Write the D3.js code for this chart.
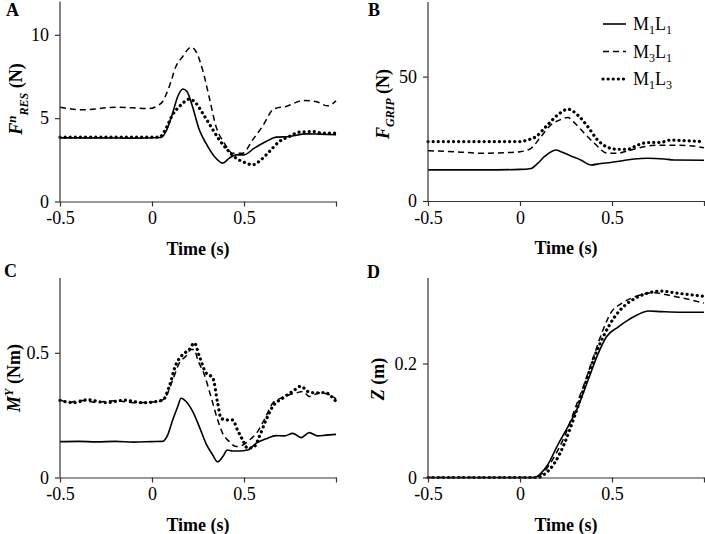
<!DOCTYPE html>
<html><head><meta charset="utf-8">
<script src="https://cdnjs.cloudflare.com/ajax/libs/d3/7.8.5/d3.min.js"></script>
<style>
html,body{margin:0;padding:0;background:#fff;}
svg{display:block;font-family:"Liberation Serif","Times New Roman",serif;}
</style></head>
<body>
<svg id="chart" width="705" height="534"></svg>
<script>
// ---------- DATA ----------
const timeTicks = [-0.5, 0, 0.5, 1];
const timeTickLabels = ["-0.5", "0", "0.5", ""];
const seriesNames = [["M","1","L","1"], ["M","3","L","1"], ["M","1","L","3"]];

// Panel A: Fn_RES (N)
const aTicks = [0, 5, 10];
const aM1L1 = [[-0.5,3.82],[-0.3,3.82],[-0.1,3.8],[0.05,3.84],[0.076,4.2],[0.112,5.3],[0.14,6.3],[0.168,6.75],[0.19,6.6],[0.22,5.7],[0.257,4.3],[0.293,3.5],[0.339,2.7],[0.384,2.3],[0.42,2.6],[0.457,2.8],[0.5,2.8],[0.556,3.2],[0.62,3.6],[0.674,3.86],[0.746,3.9],[0.837,4.06],[0.91,4.04],[1.0,4.0]];
const aM3L1 = [[-0.5,5.66],[-0.377,5.5],[-0.196,5.66],[-0.014,5.58],[0.03,5.74],[0.058,6.0],[0.094,6.9],[0.13,8.1],[0.167,8.7],[0.212,9.26],[0.239,9.0],[0.275,7.9],[0.31,6.3],[0.348,4.5],[0.393,3.5],[0.438,2.9],[0.493,2.9],[0.547,3.7],[0.6,4.5],[0.656,5.5],[0.674,5.6],[0.728,5.7],[0.764,5.86],[0.82,6.06],[0.891,6.0],[0.955,5.74],[1.0,6.04]];
const aM1L3 = [[-0.5,3.86],[-0.2,3.86],[0.04,3.86],[0.067,4.2],[0.112,5.2],[0.158,5.8],[0.203,6.14],[0.239,5.9],[0.275,5.3],[0.32,4.5],[0.366,3.7],[0.41,3.1],[0.457,2.6],[0.5,2.36],[0.547,2.2],[0.592,2.5],[0.638,3.0],[0.692,3.6],[0.746,3.9],[0.8,4.16],[0.873,4.2],[0.927,4.1],[1.0,4.1]];

// Panel B: F_GRIP (N)
const bTicks = [0, 50];
const bM1L1 = [[-0.5,12.5],[-0.2,12.5],[0,12.7],[0.06,13.1],[0.096,15.1],[0.132,17.8],[0.196,20.5],[0.223,19.8],[0.277,18.1],[0.33,16.5],[0.386,14.5],[0.44,15.1],[0.493,15.5],[0.547,16.1],[0.62,16.9],[0.692,17.2],[0.783,16.9],[0.837,16.5],[1.0,16.4]];
const bM3L1 = [[-0.5,20.2],[-0.35,19.8],[-0.21,19.2],[-0.085,19.4],[0,19.8],[0.06,21.2],[0.114,25.9],[0.168,30.6],[0.223,32.8],[0.26,33.6],[0.295,31.5],[0.35,27.2],[0.404,23.2],[0.476,19.2],[0.53,19.2],[0.585,20.2],[0.64,21.2],[0.73,22.4],[0.837,22.4],[0.91,22.3],[1.0,21.4]];
const bM1L3 = [[-0.5,23.9],[-0.2,23.9],[0,23.9],[0.04,24.5],[0.087,25.9],[0.141,29.9],[0.205,34.6],[0.26,36.9],[0.313,34.6],[0.368,29.9],[0.422,24.5],[0.476,21.6],[0.53,20.8],[0.585,20.8],[0.64,22.5],[0.692,23.5],[0.765,23.6],[0.82,24.5],[0.89,24.3],[1.0,23.9]];

// Panel C: M^Y (Nm)
const cTicks = [0, 0.5];
const cM1L1 = [[-0.5,0.144],[-0.4,0.145],[-0.3,0.143],[-0.2,0.145],[-0.1,0.142],[0,0.144],[0.058,0.145],[0.085,0.17],[0.112,0.23],[0.14,0.285],[0.158,0.318],[0.185,0.305],[0.221,0.265],[0.257,0.204],[0.293,0.137],[0.33,0.09],[0.357,0.063],[0.384,0.083],[0.41,0.11],[0.438,0.106],[0.474,0.106],[0.52,0.11],[0.565,0.137],[0.62,0.155],[0.674,0.168],[0.72,0.167],[0.765,0.177],[0.81,0.16],[0.855,0.18],[0.9,0.167],[0.946,0.17],[1.0,0.173]];
const cM3L1 = [[-0.5,0.312],[-0.45,0.3],[-0.4,0.31],[-0.3,0.302],[-0.2,0.308],[-0.1,0.3],[0.04,0.305],[0.076,0.325],[0.112,0.39],[0.149,0.46],[0.185,0.487],[0.212,0.513],[0.23,0.513],[0.248,0.473],[0.284,0.413],[0.32,0.325],[0.357,0.231],[0.384,0.177],[0.42,0.144],[0.457,0.124],[0.493,0.13],[0.53,0.15],[0.574,0.184],[0.61,0.231],[0.656,0.298],[0.7,0.318],[0.746,0.332],[0.783,0.339],[0.82,0.345],[0.855,0.325],[0.91,0.339],[0.964,0.332],[1.0,0.315]];
const cM1L3 = [[-0.5,0.309],[-0.42,0.3],[-0.35,0.312],[-0.25,0.3],[-0.15,0.31],[-0.05,0.3],[0.058,0.31],[0.094,0.366],[0.13,0.453],[0.167,0.493],[0.203,0.513],[0.23,0.54],[0.257,0.487],[0.293,0.42],[0.33,0.4],[0.357,0.298],[0.375,0.238],[0.402,0.231],[0.438,0.231],[0.465,0.19],[0.493,0.15],[0.52,0.117],[0.556,0.124],[0.583,0.164],[0.62,0.231],[0.656,0.285],[0.71,0.318],[0.764,0.345],[0.81,0.366],[0.846,0.345],[0.891,0.339],[0.937,0.341],[1.0,0.305]];

// Panel D: Z (m)
const dTicks = [0, 0.2];
const dM1L1 = [[-0.5,0],[0.078,0],[0.114,0.0076],[0.15,0.022],[0.205,0.057],[0.26,0.089],[0.315,0.124],[0.37,0.171],[0.424,0.217],[0.47,0.247],[0.533,0.264],[0.587,0.276],[0.642,0.286],[0.696,0.292],[0.769,0.291],[0.878,0.29],[1.0,0.29]];
const dM3L1 = [[-0.5,0],[0.08,0],[0.13,0.01],[0.187,0.037],[0.242,0.072],[0.296,0.118],[0.35,0.165],[0.405,0.217],[0.45,0.258],[0.496,0.29],[0.55,0.305],[0.624,0.317],[0.678,0.322],[0.733,0.324],[0.805,0.32],[0.896,0.314],[1.0,0.306]];
const dM1L3 = [[-0.5,0],[0.1,0],[0.14,0.0076],[0.187,0.025],[0.242,0.06],[0.296,0.107],[0.35,0.159],[0.405,0.212],[0.46,0.252],[0.515,0.282],[0.57,0.302],[0.624,0.314],[0.698,0.324],[0.77,0.327],[0.842,0.324],[0.915,0.321],[1.0,0.318]];

// ---------- STYLES ----------
const lineStyles = [
  {width: 1.6, dash: null, cap: "butt"},
  {width: 1.5, dash: "6,4", cap: "butt"},
  {width: 3.2, dash: "0.1,5", cap: "round"}
];
const axisColor = "#333";

const svg = d3.select("#chart");

function panel(cfg) {
  const x = d3.scaleLinear().domain([-0.5, 1]).range([cfg.x0, cfg.x1]);
  const y = d3.scaleLinear().domain([0, cfg.ymax]).range([cfg.y0, cfg.y1]);
  const g = svg.append("g");

  // lines
  const line = d3.line().x(d => x(d[0])).y(d => y(d[1])).curve(d3.curveMonotoneX);
  cfg.series.forEach((s, i) => {
    const st = lineStyles[i];
    g.append("path").datum(s).attr("d", line)
      .attr("fill", "none").attr("stroke", "#000")
      .attr("stroke-width", st.width)
      .attr("stroke-dasharray", st.dash)
      .attr("stroke-linecap", st.cap)
      .attr("stroke-linejoin", "round");
  });

  // x axis
  const xa = g.append("g").attr("transform", `translate(0,${cfg.y0})`)
    .call(d3.axisBottom(x).tickValues(timeTicks)
      .tickFormat((d, i) => timeTickLabels[i]).tickSizeInner(5).tickSizeOuter(0).tickPadding(5));
  // y axis
  const ya = g.append("g").attr("transform", `translate(${cfg.x0},0)`)
    .call(d3.axisLeft(y).tickValues(cfg.ticks)
      .tickFormat(d3.format("~g")).tickSizeInner(5).tickSizeOuter(0).tickPadding(6));
  [xa, ya].forEach(a => {
    a.select(".domain").attr("stroke", axisColor).attr("stroke-width", 1.2);
    a.selectAll(".tick line").attr("stroke", axisColor).attr("stroke-width", 1.2);
    a.selectAll(".tick text").attr("fill", "#000")
      .style("font-family", "Liberation Serif").style("font-size", "18px");
  });
  ya.select(".domain").attr("d", `M0,${cfg.y0}V${cfg.y1}`);

  // x title
  g.append("text").attr("x", (cfg.x0 + cfg.x1) / 2).attr("y", cfg.y0 + 53)
    .attr("text-anchor", "middle").style("font-size", "18px").style("font-weight", "bold")
    .text("Time (s)");

  // panel letter
  g.append("text").attr("x", cfg.lx).attr("y", cfg.ly)
    .style("font-size", "18px").style("font-weight", "bold").text(cfg.letter);

  // y title
  const yt = g.append("text")
    .attr("transform", `translate(${cfg.tx},${cfg.ty}) rotate(-90)`)
    .attr("text-anchor", "middle").attr("dy", "0.35em")
    .style("font-size", "18px").style("font-weight", "bold");
  cfg.title.forEach(p => {
    const t = yt.append("tspan").text(p.t);
    if (p.italic) t.style("font-style", "italic");
    if (p.size) t.style("font-size", p.size + "px");
    if (p.dy) t.attr("dy", p.dy);
  });
}

panel({x0: 60, x1: 336, y0: 201.5, y1: 1.5, ymax: 12, ticks: aTicks,
  series: [aM1L1, aM3L1, aM1L3], letter: "A", lx: 6, ly: 16, tx: 16, ty: 99,
  title: [{t: "F", italic: true}, {t: "n", italic: true, size: 13, dy: -6},
          {t: "RES", italic: true, size: 12, dy: 12}, {t: " (N)", dy: -6}]});

panel({x0: 428, x1: 704, y0: 201, y1: 2, ymax: 80, ticks: bTicks,
  series: [bM1L1, bM3L1, bM1L3], letter: "B", lx: 368, ly: 16, tx: 383, ty: 104,
  title: [{t: "F", italic: true}, {t: "GRIP", italic: true, size: 12, dy: 5},
          {t: " (N)", dy: -5}]});

panel({x0: 60, x1: 336, y0: 477.5, y1: 278, ymax: 0.8, ticks: cTicks,
  series: [cM1L1, cM3L1, cM1L3], letter: "C", lx: 4, ly: 277, tx: 14, ty: 378,
  title: [{t: "M", italic: true}, {t: "Y", italic: true, size: 12, dy: -7},
          {t: " (Nm)", dy: 7}]});

panel({x0: 428, x1: 704, y0: 477.5, y1: 278, ymax: 0.35, ticks: dTicks,
  series: [dM1L1, dM3L1, dM1L3], letter: "D", lx: 367, ly: 278, tx: 378, ty: 379,
  title: [{t: "Z", italic: true}, {t: " (m)"}]});

// legend
const leg = svg.append("g");
seriesNames.forEach((nm, i) => {
  const yy = 24 + i * 27.5;
  const st = lineStyles[i];
  leg.append("line").attr("x1", 603).attr("x2", 626).attr("y1", yy).attr("y2", yy)
    .attr("stroke", "#000").attr("stroke-width", st.width)
    .attr("stroke-dasharray", st.dash).attr("stroke-linecap", st.cap);
  const t = leg.append("text").attr("x", 633).attr("y", yy).attr("dy", "0.35em")
    .style("font-size", "18px");
  t.append("tspan").text(nm[0]);
  t.append("tspan").text(nm[1]).style("font-size", "12px").attr("dy", 4);
  t.append("tspan").text(nm[2]).attr("dy", -4);
  t.append("tspan").text(nm[3]).style("font-size", "12px").attr("dy", 4);
});
</script>
</body></html>
